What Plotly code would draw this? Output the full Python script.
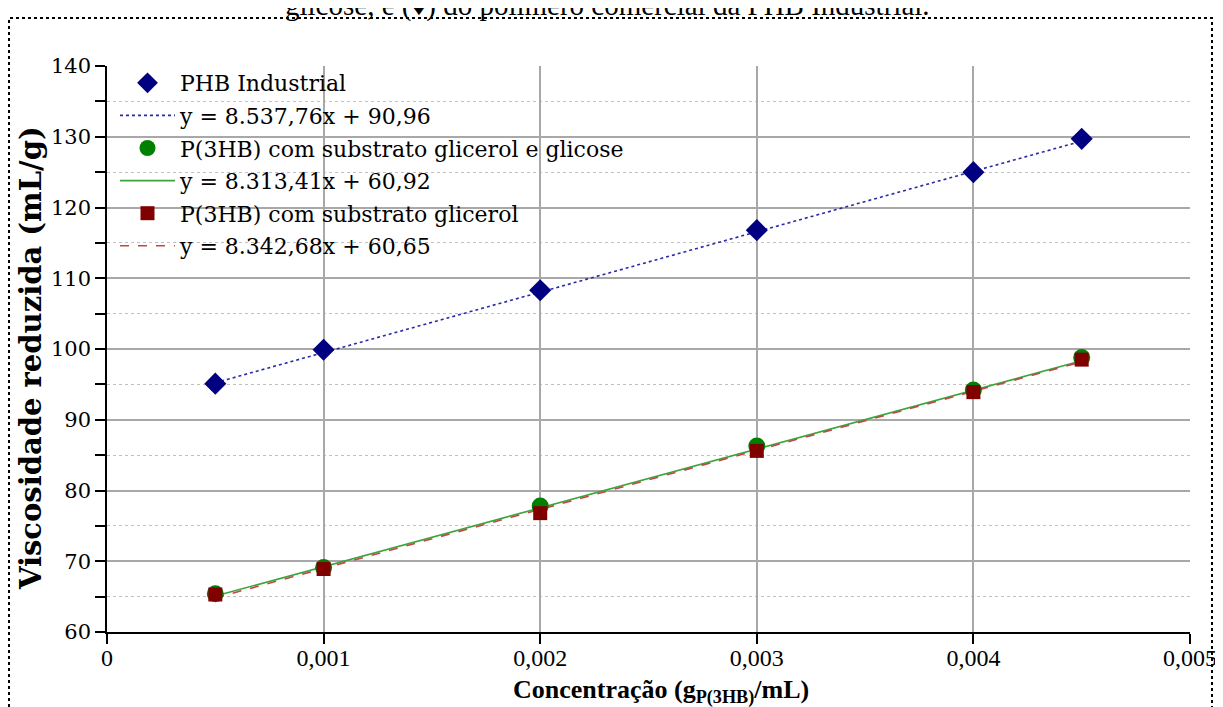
import plotly.graph_objects as go
import numpy as np

# Data
conc = [0.0005, 0.001, 0.002, 0.003, 0.004, 0.0045]
phb_industrial = [95.1, 99.9, 108.3, 116.8, 125.0, 129.7]
p3hb_glic_glicose = [65.4, 69.1, 77.8, 86.3, 94.2, 98.8]
p3hb_glicerol = [65.3, 68.9, 76.8, 85.6, 93.9, 98.5]

names = ["PHB Industrial", "P(3HB) com substrato glicerol e glicose", "P(3HB) com substrato glicerol"]
fit_labels = ["y = 8.537,76x + 90,96", "y = 8.313,41x + 60,92", "y = 8.342,68x + 60,65"]
slopes = [8537.76, 8313.41, 8342.68]
intercepts = [90.96, 60.92, 60.65]

x_tickvals = [0, 0.001, 0.002, 0.003, 0.004, 0.005]
x_ticktext = ["0", "0,001", "0,002", "0,003", "0,004", "0,005"]

x_title = "<b>Concentração (g<sub>P(3HB)</sub>/mL)</b>"
y_title = "<b>Viscosidade reduzida (mL/g)</b>"
caption = "glicose, e (♦) do polímero comercial da PHB Industrial."

series = [phb_industrial, p3hb_glic_glicose, p3hb_glicerol]
marker_colors = ["#000080", "#008000", "#800000"]
marker_symbols = ["diamond", "circle", "square"]
marker_sizes = [17, 17, 14]
line_colors = ["#2a2aa8", "#3aa63a", "#c04848"]
line_dashes = ["dot", "solid", "dash"]

times = "Liberation Serif, Times New Roman, serif"
wide = "DejaVu Serif, serif"

fig = go.Figure()

xfit = np.array([conc[0], conc[-1]])
for i in range(3):
    fig.add_trace(go.Scatter(
        x=xfit, y=slopes[i] * xfit + intercepts[i], mode="lines",
        name=fit_labels[i], legendrank=2 * i + 2, legendgroup=f"f{i}",
        line=dict(color=line_colors[i], dash=line_dashes[i], width=1.6),
        hoverinfo="skip"))
for i in [1, 2, 0]:
    fig.add_trace(go.Scatter(
        x=conc, y=series[i], mode="markers", name=names[i],
        legendrank=2 * i + 1, legendgroup=f"m{i}",
        marker=dict(color=marker_colors[i], symbol=marker_symbols[i],
                    size=marker_sizes[i], line=dict(width=0))))

# page offset of the figure (body margin)
OFF = 8
W, H = 1223 - OFF, 707 - OFF
L, T = 107 - OFF, 66 - OFF
pw, ph = 1190 - 107, 632 - 66
R, B = W - L - pw, H - T - ph

def px_x(p):
    return (p - OFF - L) / pw

def px_y(p):
    return (T + ph - (p - OFF)) / ph

fig.update_layout(
    width=W, height=H,
    margin=dict(l=L, r=R, t=T, b=B, autoexpand=False),
    paper_bgcolor="white", plot_bgcolor="white",
    font=dict(family=times, color="black", size=20),
    separators=",.",
    showlegend=True,
    legend=dict(x=px_x(115), y=px_y(62), xanchor="left", yanchor="top",
                bgcolor="rgba(0,0,0,0)", font=dict(family=wide, size=22),
                tracegroupgap=1, itemwidth=55),
    xaxis=dict(range=[0, 0.005], tickvals=x_tickvals, ticktext=x_ticktext,
               automargin=False, ticklabelstandoff=-7,
               showline=True, linecolor="black", linewidth=1.5,
               ticks="outside", ticklen=10, tickcolor="black", tickwidth=1.5,
               showgrid=True, gridcolor="#a8a8a8", gridwidth=1.5, zeroline=False,
               tickfont=dict(family=times, size=24)),
    yaxis=dict(range=[60, 140], dtick=10, tick0=60, automargin=False,
               showline=True, linecolor="black", linewidth=1.5,
               ticks="outside", ticklen=10, tickcolor="black", tickwidth=1.5,
               showgrid=True, gridcolor="#a8a8a8", gridwidth=1.5, zeroline=False,
               tickfont=dict(family=wide, size=21),
               minor=dict(dtick=5, tick0=60, ticks="outside", ticklen=10, tickcolor="black",
                          showgrid=True, gridcolor="#c0c0c0", griddash="dot", gridwidth=1.2)),
)

# Axis titles
fig.add_annotation(text=x_title, xref="paper", yref="paper",
                   x=px_x(661), y=px_y(691), xanchor="center", yanchor="middle",
                   showarrow=False, font=dict(family=times, size=26, color="black"))
fig.add_annotation(text=y_title, xref="paper", yref="paper", textangle=-90,
                   x=px_x(31), y=px_y(358), xanchor="center", yanchor="middle",
                   showarrow=False, font=dict(family=wide, size=29, color="black"))

# Dotted frame around the chart
fig.add_shape(type="rect", xref="paper", yref="paper",
              x0=px_x(9), x1=px_x(1212), y0=px_y(712), y1=px_y(18),
              line=dict(color="black", width=2, dash="dot"), layer="below")

# Caption fragment at the top (partially cut off)
fig.add_annotation(text=caption,
                   xref="paper", yref="paper", x=px_x(607), y=px_y(6),
                   xanchor="center", yanchor="middle", showarrow=False,
                   font=dict(family=times, size=29, color="black"))

fig.write_html("out.html")
